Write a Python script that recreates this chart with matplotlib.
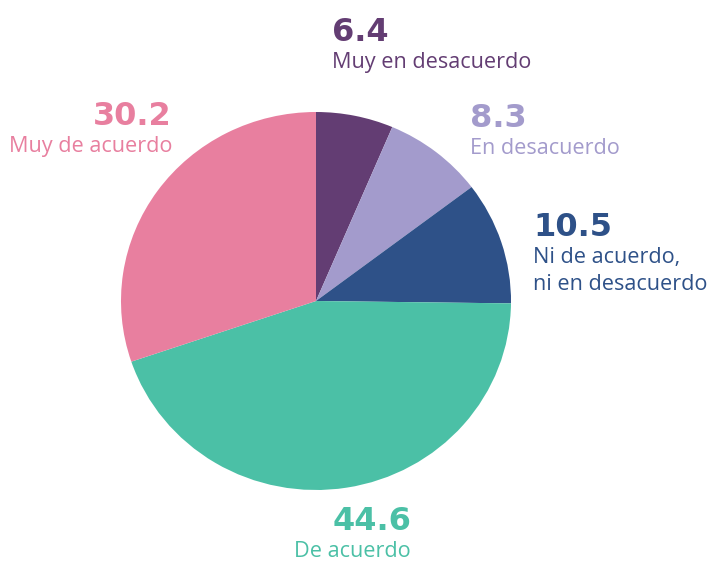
import matplotlib.pyplot as plt

# Survey answers (percent), clockwise from the top
categories = ['Muy en desacuerdo', 'En desacuerdo', 'Ni de acuerdo,\nni en desacuerdo',
              'De acuerdo', 'Muy de acuerdo']
values = [6.4, 8.3, 10.5, 44.6, 30.2]
colors = ['#633d73', '#a39bcc', '#2e5188', '#4bc0a6', '#e87f9f']

# number baseline (pixels from top-left), alignment
label_pos = [(332, 41, 'left'), (470, 127, 'left'), (533, 236, 'left'),
             (411, 530, 'right'), (172, 125, 'right')]

W, H = 712, 564
plt.rcParams['font.family'] = ['Open Sans', 'DejaVu Sans']

fig = plt.figure(figsize=(W / 100, H / 100), dpi=100)
ax = fig.add_axes([0, 0, 1, 1])

# the original pie is slightly wider than tall (195 x 189 px)
k = 195 / 189
ax.pie(values, colors=colors, startangle=90, counterclock=False,
       center=(316, (H - 301) * k), radius=195, wedgeprops=dict(linewidth=0))

ax.set_aspect('auto')
ax.set_xlim(0, W)
ax.set_ylim(0, H * k)
ax.axis('off')

for cat, val, col, (x, y, ha) in zip(categories, values, colors, label_pos):
    fig.text(x / W, 1 - y / H, f'{val:.1f}', color=col, fontsize=23,
             fontweight='bold', family='DejaVu Sans', ha=ha, va='baseline')
    for i, line in enumerate(cat.split('\n')):
        fig.text(x / W, 1 - (y + 27 * (i + 1)) / H, line, color=col,
                 fontsize=15.6, ha=ha, va='baseline')

fig.savefig('out.png', dpi=100)
